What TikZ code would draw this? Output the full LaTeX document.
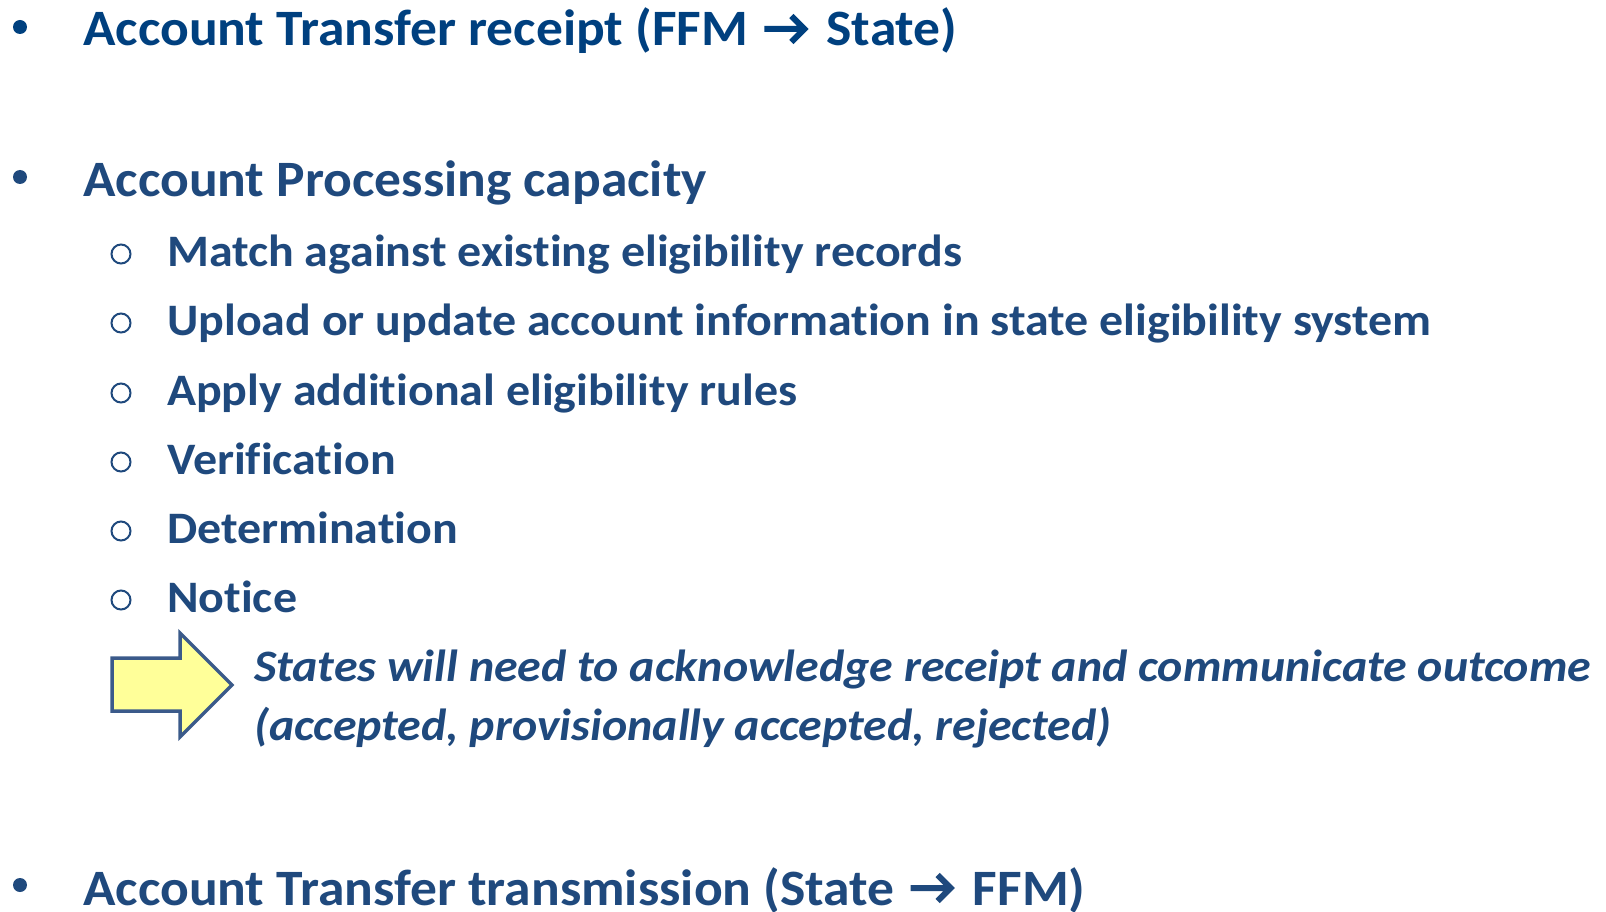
\documentclass[tikz,border=0pt]{standalone}
\usepackage{fontspec}
\usetikzlibrary{calc}
\setmainfont{Carlito}[Ligatures=CommonOff]
\definecolor{topblue}{HTML}{00407F}
\definecolor{txtblue}{HTML}{1F497D}
\definecolor{arrowedge}{HTML}{3B5A8A}
\definecolor{arrowfill}{HTML}{FFFF99}
\newcommand\mainx[1]{\scalebox{1.05}[1]{#1}}
\newcommand\subx[1]{\scalebox{1.065}[1]{#1}}
\begin{document}
\begin{tikzpicture}[x=1pt,y=-1pt,
  main/.style={anchor=base west,inner sep=0pt,font=\fontsize{51}{51}\selectfont\bfseries},
  sub/.style={anchor=base west,inner sep=0pt,font=\fontsize{45}{45}\selectfont\bfseries,text=txtblue},
  note/.style={anchor=base west,inner sep=0pt,font=\fontsize{45}{45}\selectfont\bfseries\itshape,text=txtblue},
  dot/.style={circle,fill,inner sep=0pt,minimum size=14pt},
  ring/.style={circle,draw=txtblue,line width=2pt,inner sep=0pt,minimum size=19pt},
  txtarrow/.style={line width=6pt,line join=miter}]
\useasboundingbox (0,0) rectangle (1606,912);
% main bullets
\node[dot,fill=topblue] (b1) at (20,27) {};
\node[main,text=topblue] (t1a) at (83,46) {\mainx{Account Transfer receipt (FFM}};
\coordinate (a1s) at ($(t1a.base east)+(16,-17)$);
\coordinate (a1e) at ($(a1s)+(40,0)$);
\draw[txtarrow,topblue] (a1s) -- (a1e) ($(a1e)+(-13,-13)$) -- (a1e) -- ($(a1e)+(-13,13)$);
\node[main,text=topblue] (t1b) at ($(t1a.base east)+(78,0)$) {\mainx{State)}};
\node[dot,fill=txtblue] (b2) at (20,177) {};
\node[main,text=txtblue] (t2) at (83,197) {\mainx{Account Processing capacity}};
% sub bullets
\foreach \y/\txt [count=\i] in {266/Match against existing eligibility records,
  335/Upload or update account information in state eligibility system,
  405/Apply additional eligibility rules,
  474/Verification,
  543/Determination,
  612/Notice}{
  \node[ring] (r\i) at (121,\y-12) {};
  \node[sub] (s\i) at (167,\y) {\subx{\txt}};
}
% arrow
\draw[draw=arrowedge,fill=arrowfill,line width=3.5pt,line join=miter]
  (112,658) -- (180,658) -- (180,633) -- (232,685) -- (180,737) -- (180,711) -- (112,711) -- cycle;
\node[note] (n1) at (254,681) {\subx{States will need to acknowledge receipt and communicate outcome}};
\node[note] (n2) at (254,740) {\subx{(accepted, provisionally accepted, rejected)}};
% last bullet
\node[dot,fill=txtblue] (b3) at (20,885) {};
\node[main,text=txtblue] (t3a) at (83,905) {\mainx{Account Transfer transmission (State}};
\coordinate (a3s) at ($(t3a.base east)+(16,-17)$);
\coordinate (a3e) at ($(a3s)+(40,0)$);
\draw[txtarrow,txtblue] (a3s) -- (a3e) ($(a3e)+(-13,-13)$) -- (a3e) -- ($(a3e)+(-13,13)$);
\node[main,text=txtblue] (t3b) at ($(t3a.base east)+(78,0)$) {\mainx{FFM)}};
\end{tikzpicture}
\end{document}
